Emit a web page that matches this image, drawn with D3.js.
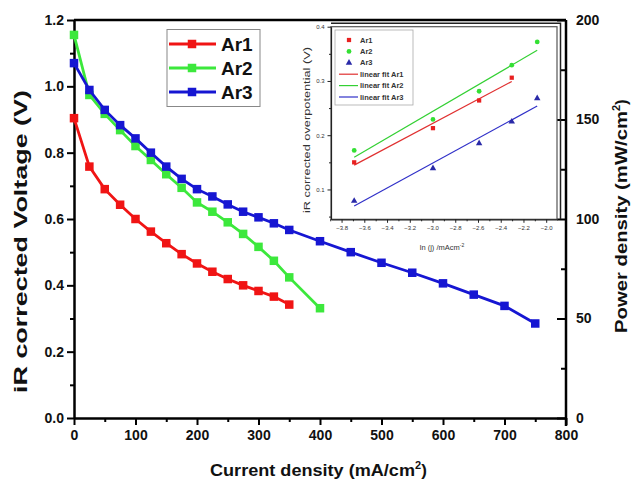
<!DOCTYPE html>
<html><head><meta charset="utf-8">
<script src="https://cdn.jsdelivr.net/npm/d3@7"></script>
<style>
body{margin:0;background:#fff;}
text{font-family:"Liberation Sans",Arial,sans-serif;}
</style></head>
<body>
<svg id="c" width="631" height="482"></svg>
<script>
// ---- main chart data ----
const seriesNames = ["Ar1","Ar2","Ar3"];
const ar1Current = [0,25,50,75,100,125,150,175,200,225,250,275,300,325,350];
const ar1Voltage = [0.904,0.758,0.690,0.643,0.600,0.562,0.527,0.494,0.466,0.441,0.419,0.400,0.383,0.366,0.342];
const ar2Current = [0,25,50,75,100,125,150,175,200,225,250,275,300,325,350,400];
const ar2Voltage = [1.155,0.974,0.917,0.868,0.820,0.778,0.735,0.694,0.650,0.622,0.590,0.555,0.516,0.474,0.424,0.331];
const ar3Current = [0,25,50,75,100,125,150,175,200,225,250,275,300,325,350,400,450,500,550,600,650,700,750];
const ar3Voltage = [1.070,0.989,0.929,0.883,0.843,0.800,0.758,0.721,0.690,0.668,0.644,0.622,0.605,0.587,0.567,0.533,0.500,0.468,0.438,0.406,0.372,0.338,0.285];
const xTicks = [0,100,200,300,400,500,600,700,800];
const yTicks = [0,0.2,0.4,0.6,0.8,1.0,1.2];
const y2Ticks = [0,50,100,150,200];

// ---- inset data (Tafel) ----
const insetNames = ["Ar1","Ar2","Ar3"];
const insetLnJ1 = [-3.689,-2.996,-2.590,-2.303];
const insetEta1 = [0.150,0.213,0.264,0.306];
const insetLnJ2 = [-3.689,-2.996,-2.590,-2.303,-2.079];
const insetEta2 = [0.172,0.229,0.281,0.329,0.372];
const insetLnJ3 = [-3.689,-2.996,-2.590,-2.303,-2.079];
const insetEta3 = [0.079,0.139,0.185,0.225,0.268];
const insetXTicks = [-3.8,-3.6,-3.4,-3.2,-3.0,-2.8,-2.6,-2.4,-2.2,-2.0];
const insetYTicks = [0.1,0.2,0.3,0.4];

const colors = ["#f01414","#3ce83c","#1616d2"];
const insetMarkColors = ["#e82020","#33e033","#2a2aa8"];
const insetLineColors = ["#e03030","#33d033","#3030c8"];

const svg = d3.select("#c");
const FONT = '"Liberation Sans",Arial,sans-serif';

const x = d3.scaleLinear().domain([0,800]).range([74,566]);
const y = d3.scaleLinear().domain([0,1.2]).range([418,20]);
const y2 = d3.scaleLinear().domain([0,200]).range([418,20]);

// frame top line
svg.append("line").attr("x1",x(0)).attr("x2",x(800)).attr("y1",y(1.2)).attr("y2",y(1.2))
  .attr("stroke","#000").attr("stroke-width",2.5);

function styleAxis(g, fs){
  g.select(".domain").attr("stroke","#000").attr("stroke-width",2.5);
  g.selectAll(".tick line").attr("stroke","#000").attr("stroke-width",2);
  g.selectAll(".tick text").attr("font-family",FONT).attr("font-weight","bold").attr("font-size",fs).attr("fill","#111");
}
// minor ticks
svg.append("g").attr("transform",`translate(0,${y(0)})`)
  .call(d3.axisBottom(x).tickValues(d3.range(50,800,100)).tickSize(4).tickFormat(""))
  .call(g=>{g.select(".domain").remove();g.selectAll("line").attr("stroke","#000").attr("stroke-width",2);});
svg.append("g").attr("transform",`translate(${x(0)},0)`)
  .call(d3.axisLeft(y).tickValues(d3.range(0.1,1.2,0.2)).tickSize(4).tickFormat(""))
  .call(g=>{g.select(".domain").remove();g.selectAll("line").attr("stroke","#000").attr("stroke-width",2);});
svg.append("g").attr("transform",`translate(${x(800)},0)`)
  .call(d3.axisLeft(y2).tickValues(d3.range(25,200,50)).tickSize(5).tickFormat(""))
  .call(g=>{g.select(".domain").remove();g.selectAll("line").attr("stroke","#000").attr("stroke-width",2);});

const gx = svg.append("g").attr("transform",`translate(0,${y(0)})`)
  .call(d3.axisBottom(x).tickValues(xTicks).tickSize(7).tickPadding(5).tickSizeOuter(0).tickFormat(d3.format("d")));
styleAxis(gx,14);
const gy = svg.append("g").attr("transform",`translate(${x(0)},0)`)
  .call(d3.axisLeft(y).tickValues(yTicks).tickSize(7).tickPadding(3).tickSizeOuter(0).tickFormat(d3.format(".1f")));
styleAxis(gy,14);
const gy2 = svg.append("g").attr("transform",`translate(${x(800)},0)`)
  .call(d3.axisRight(y2).tickValues(y2Ticks).tickSize(0).tickPadding(10).tickSizeOuter(0).tickFormat(d3.format("d")));
styleAxis(gy2,14);
gy2.call(g=>g.selectAll(".tick").append("line").attr("x1",-9).attr("x2",0).attr("stroke","#000").attr("stroke-width",2));
gy2.select(".domain").attr("d",`M0,${y2(200)}V${y2(0)+8}`);

// axis titles
const xt = svg.append("text").attr("x",210).attr("y",476)
  .attr("font-weight","bold").attr("font-size",17).attr("fill","#111");
xt.append("tspan").attr("textLength",205).attr("lengthAdjust","spacingAndGlyphs").text("Current density (mA/cm");
xt.append("tspan").attr("dy",-7).attr("font-size",11).text("2");
xt.append("tspan").attr("dy",7).text(")");

svg.append("text").attr("transform","translate(27,393) rotate(-90)")
  .attr("font-weight","bold").attr("font-size",18).attr("fill","#111")
  .attr("textLength",303).attr("lengthAdjust","spacingAndGlyphs").text("iR corrected Voltage (V)");

const yt2 = svg.append("text").attr("transform","translate(627,333) rotate(-90)")
  .attr("font-weight","bold").attr("font-size",17).attr("fill","#111");
yt2.append("tspan").attr("textLength",222).attr("lengthAdjust","spacingAndGlyphs").text("Power density (mW/cm");
yt2.append("tspan").attr("dy",-7).attr("font-size",11).text("2");
yt2.append("tspan").attr("dy",7).text(")");

// main series
const mainSeries = [
  {name:seriesNames[0], xs:ar1Current, ys:ar1Voltage, c:colors[0]},
  {name:seriesNames[1], xs:ar2Current, ys:ar2Voltage, c:colors[1]},
  {name:seriesNames[2], xs:ar3Current, ys:ar3Voltage, c:colors[2]}
];
const line = d3.line().x(d=>x(d[0])).y(d=>y(d[1]));
const MS = 8.5;
mainSeries.forEach(s=>{
  const pts = s.xs.map((v,i)=>[v,s.ys[i]]);
  svg.append("path").attr("d",line(pts)).attr("fill","none").attr("stroke",s.c).attr("stroke-width",2.8);
  svg.append("g").selectAll("rect").data(pts).join("rect")
    .attr("x",d=>x(d[0])-MS/2).attr("y",d=>y(d[1])-MS/2).attr("width",MS).attr("height",MS).attr("fill",s.c);
});

// main legend
svg.append("rect").attr("x",167).attr("y",29.5).attr("width",93).attr("height",77)
  .attr("fill","#fff").attr("stroke","#888").attr("stroke-width",1);
mainSeries.forEach((s,i)=>{
  const ly = 44 + i*24;
  svg.append("line").attr("x1",169).attr("x2",216).attr("y1",ly).attr("y2",ly).attr("stroke",s.c).attr("stroke-width",2.8);
  svg.append("rect").attr("x",192-MS/2).attr("y",ly-MS/2).attr("width",MS).attr("height",MS).attr("fill",s.c);
  svg.append("text").attr("x",221).attr("y",ly+7).attr("font-weight","bold").attr("font-size",19).attr("fill","#111").text(s.name);
});

// ---- inset ----
const xi = d3.scaleLinear().domain([-3.893,-1.905]).range([331,557]);
const yi = d3.scaleLinear().domain([0.045,0.4]).range([219.3,26.7]);
svg.append("path").attr("d",`M${xi.range()[0]},23.3H560.5V219.3`).attr("fill","none").attr("stroke","#222").attr("stroke-width",1.5);
svg.append("rect").attr("x",331).attr("y",26.7).attr("width",226).attr("height",192.6)
  .attr("fill","#fff").attr("stroke","#555").attr("stroke-width",1.2);

function styleInset(g){
  g.select(".domain").attr("stroke","#222").attr("stroke-width",1.2);
  g.selectAll(".tick line").attr("stroke","#222").attr("stroke-width",1);
  g.selectAll(".tick text").attr("font-family",FONT).attr("font-size",6).attr("fill","#333");
}
svg.append("g").attr("transform",`translate(0,219.3)`)
  .call(d3.axisBottom(xi).tickValues(d3.range(-3.9,-1.91,0.2)).tickSize(2).tickFormat(""))
  .call(g=>{g.select(".domain").remove();g.selectAll("line").attr("stroke","#222");});
svg.append("g").attr("transform",`translate(331,0)`)
  .call(d3.axisLeft(yi).tickValues([0.05,0.15,0.25,0.35]).tickSize(2).tickFormat(""))
  .call(g=>{g.select(".domain").remove();g.selectAll("line").attr("stroke","#222");});
const gxi = svg.append("g").attr("transform",`translate(0,219.3)`)
  .call(d3.axisBottom(xi).tickValues(insetXTicks).tickSize(3.5).tickPadding(3).tickSizeOuter(0).tickFormat(d3.format(".1f")));
styleInset(gxi);
const gyi = svg.append("g").attr("transform",`translate(331,0)`)
  .call(d3.axisLeft(yi).tickValues(insetYTicks).tickSize(3.5).tickPadding(3).tickSizeOuter(0).tickFormat(d3.format(".1f")));
styleInset(gyi);

svg.append("text").attr("transform","translate(310,213) rotate(-90)")
  .attr("font-size",8.5).attr("fill","#333").attr("textLength",166).attr("lengthAdjust","spacingAndGlyphs")
  .text("iR corrected overpotential (V)");
const xit = svg.append("text").attr("x",442).attr("y",250).attr("text-anchor","middle").attr("font-size",7.5).attr("fill","#333");
xit.append("tspan").text("ln (j) /mAcm");
xit.append("tspan").attr("dy",-3).attr("font-size",5).text("-2");

const insetSeries = [
  {name:insetNames[0], xs:insetLnJ1, ys:insetEta1, shape:d3.symbolSquare},
  {name:insetNames[1], xs:insetLnJ2, ys:insetEta2, shape:d3.symbolCircle},
  {name:insetNames[2], xs:insetLnJ3, ys:insetEta3, shape:d3.symbolTriangle}
];
function linFit(xs,ys){
  const mx=d3.mean(xs), my=d3.mean(ys);
  let sxy=0,sxx=0; xs.forEach((v,i)=>{sxy+=(v-mx)*(ys[i]-my);sxx+=(v-mx)*(v-mx);});
  const b=sxy/sxx; return v=>my+b*(v-mx);
}
insetSeries.forEach((s,i)=>{
  const f = linFit(s.xs,s.ys);
  const x0=d3.min(s.xs), x1=d3.max(s.xs);
  svg.append("line").attr("x1",xi(x0)).attr("x2",xi(x1)).attr("y1",yi(f(x0))).attr("y2",yi(f(x1)))
    .attr("stroke",insetLineColors[i]).attr("stroke-width",1.2);
  svg.append("g").selectAll("path").data(s.xs.map((v,k)=>[v,s.ys[k]])).join("path")
    .attr("transform",d=>`translate(${xi(d[0])},${yi(d[1])})`)
    .attr("d",d3.symbol().type(s.shape).size(18)).attr("fill",insetMarkColors[i]);
});

// inset legend
svg.append("rect").attr("x",335).attr("y",30).attr("width",78).attr("height",75)
  .attr("fill","#fff").attr("stroke","#aaa").attr("stroke-width",0.8);
insetSeries.forEach((s,i)=>{
  const ly = 40 + i*11.4;
  svg.append("path").attr("transform",`translate(349,${ly})`).attr("d",d3.symbol().type(s.shape).size(18)).attr("fill",insetMarkColors[i]);
  svg.append("text").attr("x",360).attr("y",ly+2.6).attr("font-size",7.5).attr("font-weight","bold").attr("fill","#333").text(s.name);
});
insetSeries.forEach((s,i)=>{
  const ly = 40 + (i+3)*11.4;
  svg.append("line").attr("x1",339).attr("x2",358).attr("y1",ly).attr("y2",ly).attr("stroke",insetLineColors[i]).attr("stroke-width",1.2);
  svg.append("text").attr("x",360).attr("y",ly+2.6).attr("font-size",7.5).attr("font-weight","bold").attr("fill","#333").text("linear fit "+s.name);
});
</script>
</body></html>
